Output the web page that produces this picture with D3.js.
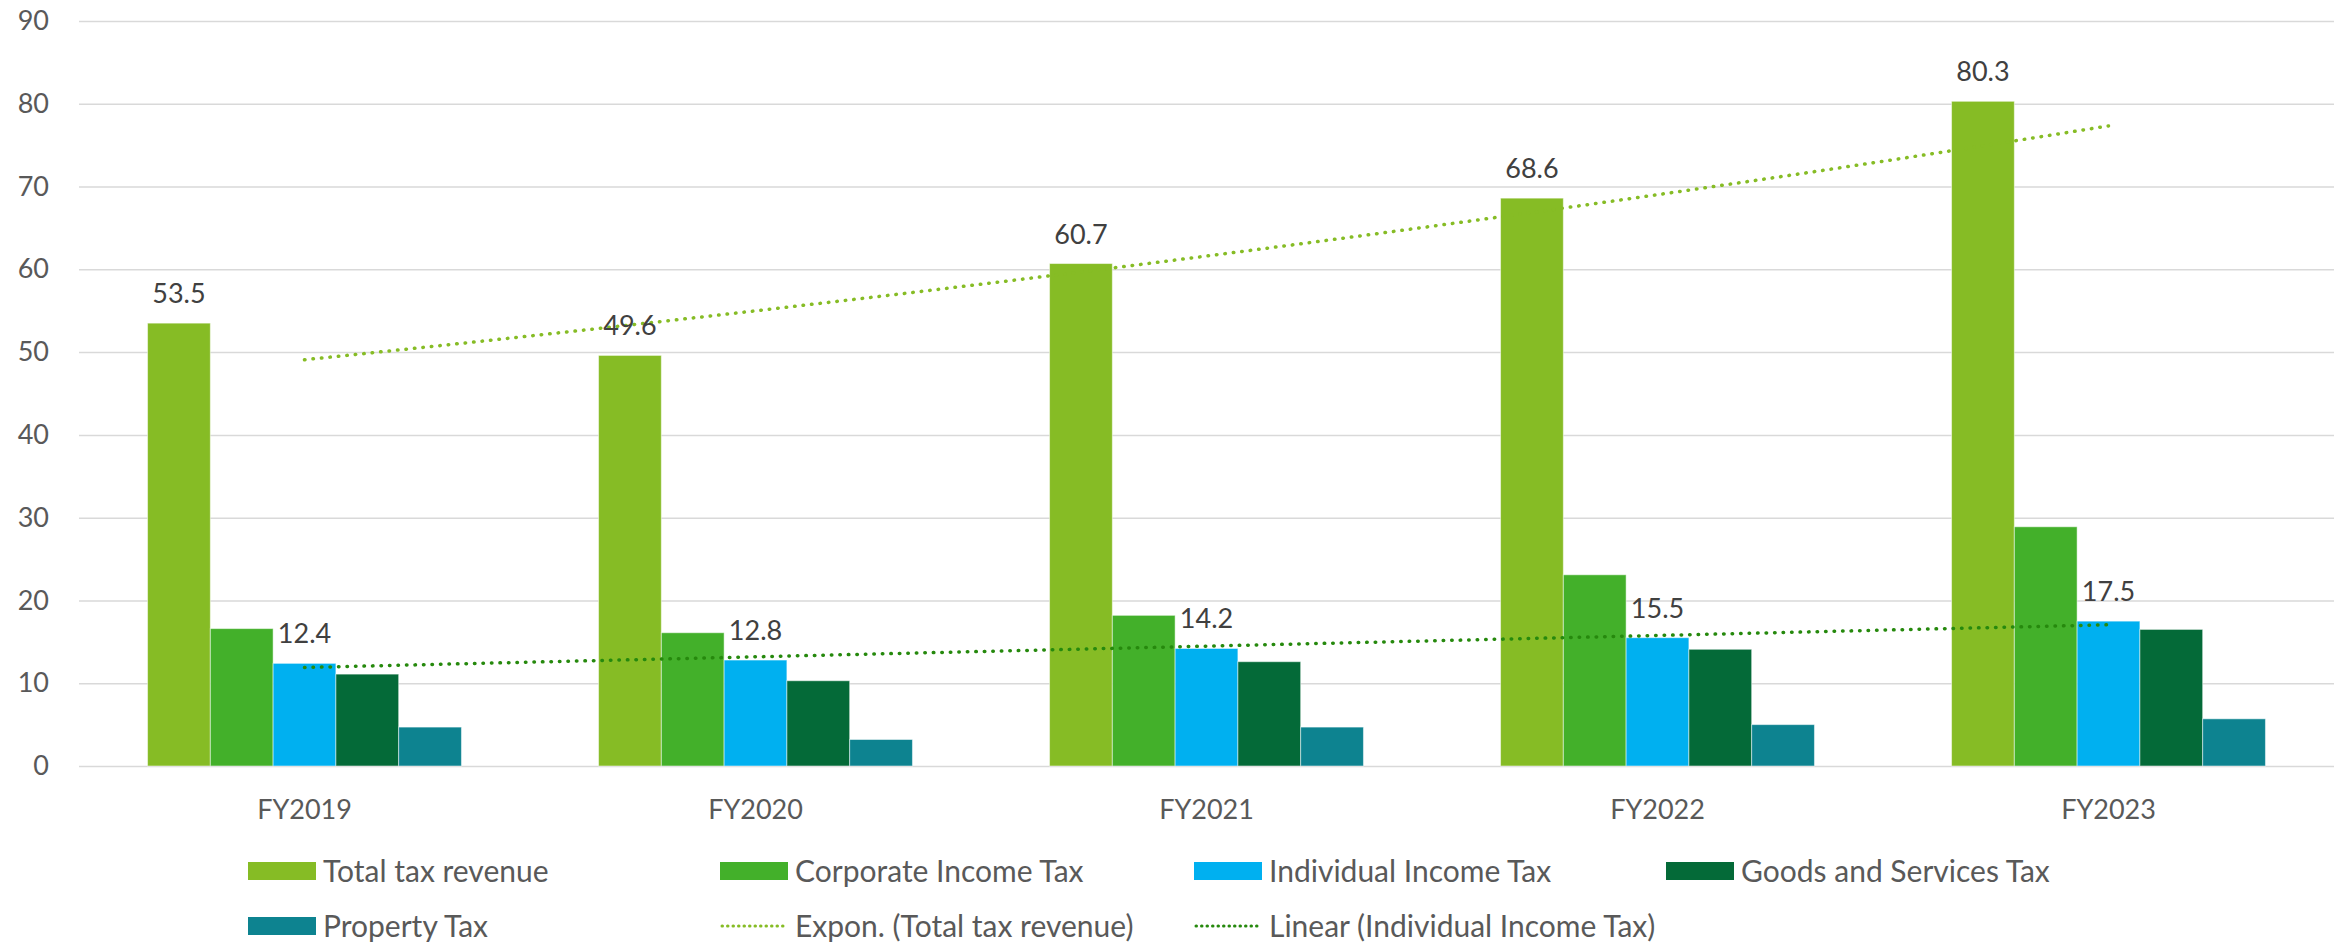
<!DOCTYPE html>
<html>
<head>
<meta charset="utf-8">
<script src="https://cdn.jsdelivr.net/npm/d3@7"></script>
<style>
  body { margin: 0; background: #fff; }
  text { font-family: Lato, "Open Sans", sans-serif; }
</style>
</head>
<body>
<div id="chart"></div>
<script>
(function() {
  var years = ["FY2019", "FY2020", "FY2021", "FY2022", "FY2023"]
  var seriesNames = ["Total tax revenue", "Corporate Income Tax", "Individual Income Tax", "Goods and Services Tax", "Property Tax"]
  var totalTax = [53.5, 49.6, 60.7, 68.6, 80.3]
  var corporateTax = [16.6, 16.1, 18.2, 23.1, 28.9]
  var individualTax = [12.4, 12.8, 14.2, 15.5, 17.5]
  var gstTax = [11.1, 10.3, 12.6, 14.1, 16.5]
  var propertyTax = [4.7, 3.2, 4.7, 5.0, 5.7]
  var yTicks = [0, 10, 20, 30, 40, 50, 60, 70, 80, 90]
  var colors = ["#86BC25", "#43B02A", "#00B0F0", "#046A38", "#0D8390"]

  var allSeries = [totalTax, corporateTax, individualTax, gstTax, propertyTax]
  var labelled = [0, 2] // series that show data labels

  var width = 2349, height = 942
  var svg = d3.select("#chart")
    .append("svg")
    .attr("width", width)
    .attr("height", height)

  var xScale = d3.scaleBand().domain(years).range([79, 2334])
    .paddingInner(0.304).paddingOuter(0.152)
  var innerScale = d3.scaleBand().domain(seriesNames).range([0, xScale.bandwidth()])
  var yScale = d3.scaleLinear().domain([0, 90]).range([766, 21])

  // gridlines + y labels
  var yAxis = d3.axisLeft(yScale).tickValues(yTicks).tickSize(-(2334 - 79)).tickPadding(30)
  var gy = svg.append("g")
    .attr("class", "axis y-axis")
    .attr("transform", "translate(79,0)")
    .call(yAxis)
  gy.select(".domain").remove()
  gy.selectAll("line").attr("stroke", "#D9D9D9").attr("stroke-width", 1.5)
  gy.selectAll("text").attr("fill", "#595959").style("font-size", "27px")

  // x labels
  var xAxis = d3.axisBottom(xScale).tickSize(0).tickPadding(34)
  var gx = svg.append("g")
    .attr("class", "axis x-axis")
    .attr("transform", "translate(0,766)")
    .call(xAxis)
  gx.select(".domain").remove()
  gx.selectAll("text").attr("fill", "#595959").style("font-size", "27px")

  // bars
  var groups = svg.selectAll(".year")
    .data(years)
    .enter().append("g")
    .attr("class", "year")
    .attr("transform", function(d) { return "translate(" + xScale(d) + ",0)" })

  groups.selectAll("rect")
    .data(function(d, i) {
      return seriesNames.map(function(s, j) { return { series: s, idx: j, value: allSeries[j][i] } })
    })
    .enter().append("rect")
    .attr("x", function(d) { return innerScale(d.series) })
    .attr("width", innerScale.bandwidth())
    .attr("y", function(d) { return yScale(d.value) })
    .attr("height", function(d) { return yScale(0) - yScale(d.value) })
    .attr("fill", function(d) { return colors[d.idx] })
    .attr("stroke", "#ffffff")
    .attr("stroke-opacity", 0.5)
    .attr("stroke-width", 1)

  // trendlines (least squares, x = 1..n)
  function fitLinear(vals) {
    var n = vals.length, mx = (n + 1) / 2, my = d3.mean(vals)
    var num = 0, den = 0
    vals.forEach(function(v, i) { num += (i + 1 - mx) * (v - my); den += (i + 1 - mx) * (i + 1 - mx) })
    var b = num / den
    return function(x) { return my + b * (x - mx) }
  }
  function fitExpon(vals) {
    var lin = fitLinear(vals.map(Math.log))
    return function(x) { return Math.exp(lin(x)) }
  }
  var xNum = d3.scaleLinear().domain([1, years.length])
    .range([xScale(years[0]) + xScale.bandwidth() / 2, xScale(years[years.length - 1]) + xScale.bandwidth() / 2])
  var steps = d3.range(1, years.length + 0.001, 0.1)

  var trends = [
    { f: fitExpon(totalTax), color: "#86BC25" },
    { f: fitLinear(individualTax), color: "#26890D" }
  ]
  var line = d3.line()
  trends.forEach(function(t) {
    svg.append("path")
      .attr("d", line(steps.map(function(x) { return [xNum(x), yScale(t.f(x))] })))
      .attr("fill", "none")
      .attr("stroke", t.color)
      .attr("stroke-width", 3.5)
      .attr("stroke-linecap", "round")
      .attr("stroke-dasharray", "0.5 8")
  })

  // data labels
  labelled.forEach(function(j) {
    svg.selectAll(".lbl" + j)
      .data(years)
      .enter().append("text")
      .attr("x", function(d) { return xScale(d) + innerScale(seriesNames[j]) + innerScale.bandwidth() / 2 })
      .attr("y", function(d, i) { return yScale(allSeries[j][i]) - 20 })
      .attr("text-anchor", "middle")
      .attr("fill", "#404040")
      .style("font-size", "27px")
      .text(function(d, i) { return allSeries[j][i].toFixed(1) })
  })

  // legend
  var legendItems = [
    { name: "Total tax revenue", color: colors[0], type: "box" },
    { name: "Corporate Income Tax", color: colors[1], type: "box" },
    { name: "Individual Income Tax", color: colors[2], type: "box" },
    { name: "Goods and Services Tax", color: colors[3], type: "box" },
    { name: "Property Tax", color: colors[4], type: "box" },
    { name: "Expon. (Total tax revenue)", color: "#86BC25", type: "line" },
    { name: "Linear (Individual Income Tax)", color: "#26890D", type: "line" }
  ]
  var legX = [248, 720, 1194, 1666]
  var legY = [871, 926]
  var leg = svg.selectAll(".legend")
    .data(legendItems)
    .enter().append("g")
    .attr("class", "legend")
    .attr("transform", function(d, i) { return "translate(" + legX[i % 4] + "," + legY[Math.floor(i / 4)] + ")" })

  leg.filter(function(d) { return d.type == "box" })
    .append("rect")
    .attr("x", 0).attr("y", -9).attr("width", 68).attr("height", 18)
    .attr("fill", function(d) { return d.color })
  leg.filter(function(d) { return d.type == "line" })
    .append("line")
    .attr("x1", 2).attr("x2", 66).attr("y1", 0).attr("y2", 0)
    .attr("stroke", function(d) { return d.color })
    .attr("stroke-width", 3)
    .attr("stroke-linecap", "round")
    .attr("stroke-dasharray", "0.5 5")
  leg.append("text")
    .attr("x", 75).attr("y", 0).attr("dy", "0.35em")
    .attr("fill", "#595959")
    .style("font-size", "30px")
    .text(function(d) { return d.name })
})();
</script>
</body>
</html>
